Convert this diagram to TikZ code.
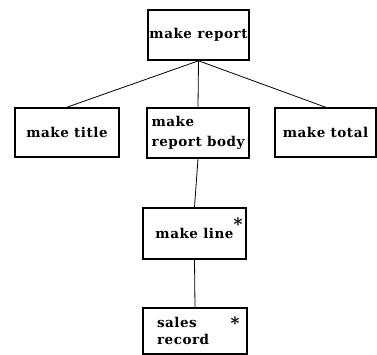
\documentclass[tikz,border=0pt]{standalone}
\usepackage{fontspec}
\newfontfamily\boxfont[LetterSpace=4]{DejaVu Serif}
\begin{document}
\begin{tikzpicture}[x=1pt,y=1pt,
  box/.style={draw, line width=1.6pt, inner sep=0pt, font=\boxfont\fontsize{13.5}{20}\selectfont\bfseries},
  link/.style={line width=0.8pt},
  rep/.style={font=\boxfont\fontsize{17}{17}\selectfont\bfseries, inner sep=0pt}]
\useasboundingbox (0,0) rectangle (377,355);

% module boxes
\node[box, minimum width=101pt, minimum height=50pt] (report) at (198.5,320) {make report};
\node[box, minimum width=104pt, minimum height=49pt] (title)  at (67,222.5) {make title};
\node[box, minimum width=102pt, minimum height=50pt, align=left] (body) at (198,222) {make\\report body};
\node[box, minimum width=101pt, minimum height=49pt] (total)  at (325.5,222.5) {make total};
\node[box, minimum width=103pt, minimum height=51pt] (line)   at (194.5,121.5) {make line};
\node[box, minimum width=104pt, minimum height=46pt, align=left, text width=76pt, font=\boxfont\fontsize{13.5}{17}\selectfont\bfseries] (sales) at (195,24) {sales\\record};

% iteration marks
\node[rep] (lstar) at (238,131) {*};
\node[rep] (sstar) at (235,32) {*};

% hierarchy links
\draw[link] (report.south) -- (title.north);
\draw[link] (report.south) -- (body.north);
\draw[link] (report.south) -- (total.north);
\draw[link] (body.south) -- (line.north);
\draw[link] (line.south) -- (sales.north);
\end{tikzpicture}
\end{document}
